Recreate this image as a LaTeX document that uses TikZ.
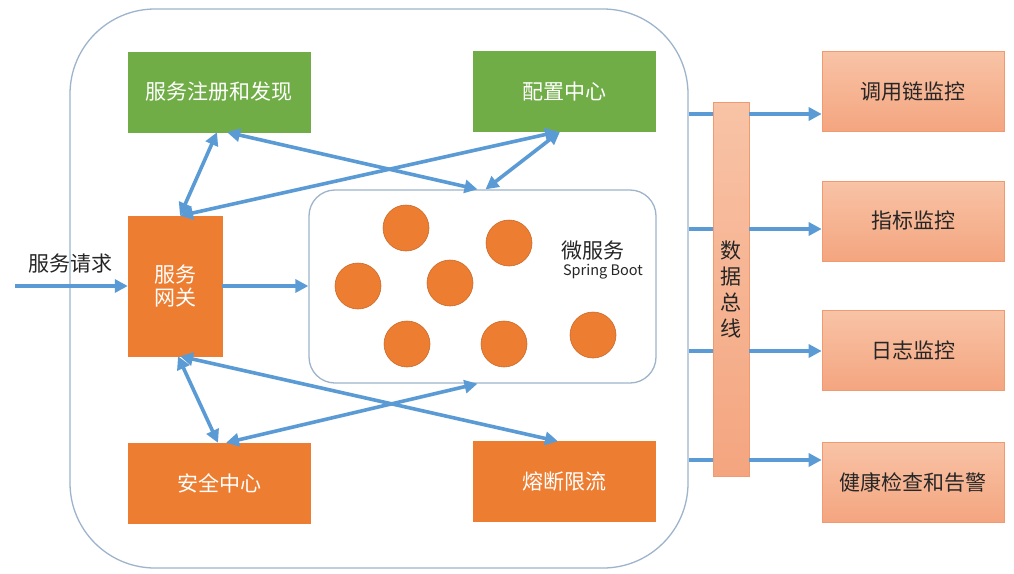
\documentclass[tikz,border=0pt]{standalone}
\usepackage{fontspec}
\setmainfont{Noto Sans CJK SC}
\usetikzlibrary{arrows.meta}
\definecolor{cgreen}{HTML}{70AD47}
\definecolor{corange}{HTML}{ED7D31}
\definecolor{cblue}{HTML}{5B9BD5}
\definecolor{cframe}{HTML}{9DB4CC}
\definecolor{csalmonT}{HTML}{F8C3A6}
\definecolor{csalmonB}{HTML}{F4A57F}
\definecolor{csalmonD}{HTML}{F09A72}
\definecolor{ctext}{HTML}{262626}
\tikzset{
  lbl/.style={font=\fontsize{21}{25}\selectfont},
  greenbox/.style={lbl, rectangle, fill=cgreen, draw=cgreen, text=white, minimum width=182pt, minimum height=80pt, inner sep=0pt},
  orangebox/.style={lbl, rectangle, fill=corange, draw=corange, text=white, minimum width=182pt, minimum height=80pt, inner sep=0pt},
  monbox/.style={lbl, rectangle, top color=csalmonT, bottom color=csalmonB, draw=csalmonD, line width=0.6pt, text=ctext, minimum width=182pt, minimum height=80pt, inner sep=0pt},
  svc/.style={circle, fill=corange, draw=corange!85!black, line width=0.6pt, minimum size=46pt, inner sep=0pt},
  frame/.style={rectangle, draw=cframe, line width=1.3pt, inner sep=0pt},
  conn/.style={draw=cblue, line width=3.6pt},
  onearrow/.style={conn, -{Triangle[length=13pt,width=13pt]}},
  twoarrow/.style={conn, {Triangle[length=13pt,width=13pt]}-{Triangle[length=13pt,width=13pt]}},
}
\begin{document}
\begin{tikzpicture}[x=1pt,y=-1pt]
\useasboundingbox (0,0) rectangle (1014,573);
\fill[white] (0,0) rectangle (1014,573);

% outer frame and microservice frame
\node[frame, rounded corners=85pt, minimum width=618pt, minimum height=559pt] (outer) at (379,288.5) {};
\node[frame, rounded corners=26pt, minimum width=347pt, minimum height=193pt] (ms) at (482.5,286.5) {};

% boxes
\node[greenbox] (reg) at (219,92) {服务注册和发现};
\node[greenbox] (cfg) at (564,91.5) {配置中心};
\node[orangebox, minimum width=94pt, minimum height=140pt, align=center, font=\fontsize{21}{23}\selectfont] (gw) at (175,286) {服务\\网关};
\node[orangebox] (sec) at (219,483) {安全中心};
\node[orangebox] (fuse) at (564,481.5) {熔断限流};

% microservices
\node[svc] (c1) at (406,228) {};
\node[svc] (c2) at (509,243) {};
\node[svc] (c3) at (358,286) {};
\node[svc] (c4) at (450,283) {};
\node[svc] (c5) at (407,344) {};
\node[svc] (c6) at (504,344) {};
\node[svc] (c7) at (593,335) {};
\node[lbl, text=ctext, inner sep=0pt] (mstitle) at (593,251) {微服务};
\node[font=\fontsize{14.5}{16}\selectfont, text=ctext, inner sep=0pt] (msboot) at (603,272) {Spring Boot};

% data bus
\node[monbox, minimum width=36pt, minimum height=374pt, align=center, font=\fontsize{21}{26}\selectfont] (bus) at (731,289) {数\\据\\总\\线};

% monitors
\node[monbox] (mon1) at (913,91.5) {调用链监控};
\node[monbox] (mon2) at (913,221) {指标监控};
\node[monbox] (mon3) at (913,350.5) {日志监控};
\node[monbox] (mon4) at (913,482.5) {健康检查和告警};

% request
\node[lbl, text=ctext, inner sep=0pt] (reqlbl) at (70,264) {服务请求};
\coordinate (reqstart) at (15,286);
\draw[onearrow] (reqstart) -- (gw.west);
\draw[onearrow] (gw.east) -- (ms.west |- gw.east);

% double arrows top
\draw[twoarrow] ([xshift=-2pt]reg.south) -- ([xshift=5pt]gw.north);
\draw[twoarrow] ([xshift=8pt]reg.south) -- ([xshift=-5pt]ms.north);
\draw[twoarrow] ([xshift=-4pt]cfg.south) -- ([xshift=3pt]ms.north);
\draw[twoarrow] ([xshift=-6pt]cfg.south) -- ([xshift=5pt]gw.north);

% double arrows bottom
\draw[twoarrow] ([xshift=3pt]gw.south) -- ([xshift=-1pt]sec.north);
\draw[twoarrow] ([xshift=5pt]gw.south) -- ([xshift=-6pt]fuse.north);
\draw[twoarrow] ([xshift=7pt]sec.north) -- ([xshift=-5pt]ms.south);

% bus links
\coordinate (p1) at ([yshift=-22.5pt]mon1.west);
\coordinate (p2) at ([yshift=-8pt]mon2.west);
\coordinate (p3) at ([yshift=-0.5pt]mon3.west);
\coordinate (p4) at ([yshift=22.5pt]mon4.west);
\foreach \p in {p1,p2,p3,p4}{
  \draw[conn] (outer.east |- \p) -- (bus.west |- \p);
  \draw[onearrow] (bus.east |- \p) -- (\p);
}
\end{tikzpicture}
\end{document}
